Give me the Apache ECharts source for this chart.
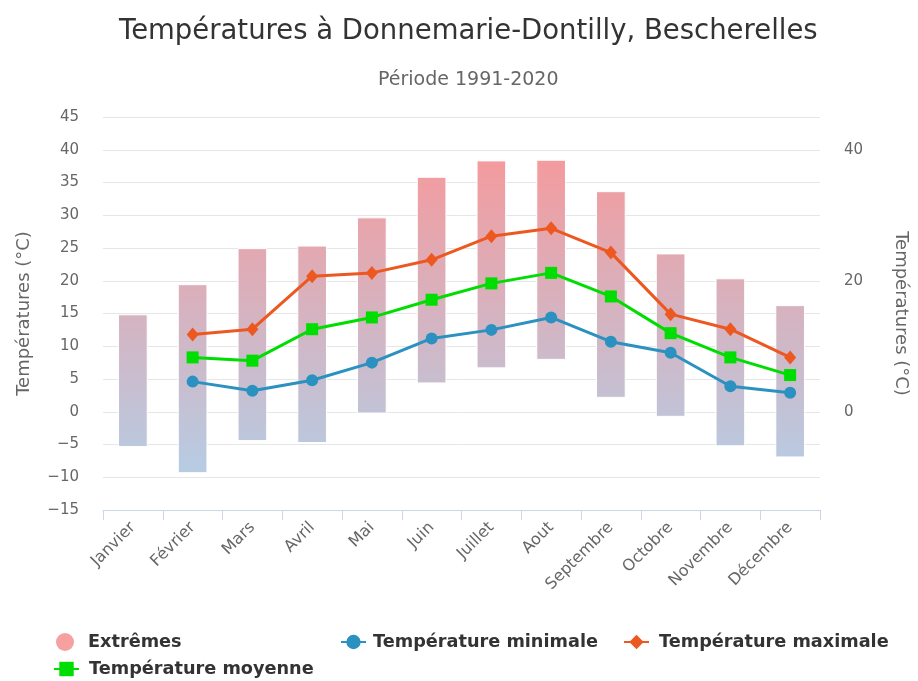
<!DOCTYPE html>
<html>
<head>
<meta charset="utf-8">
<script src="https://cdn.jsdelivr.net/npm/echarts@6/dist/echarts.min.js"></script>
<style>
  html, body { margin: 0; padding: 0; background: #fff; }
  #chart { width: 918px; height: 681px; }
</style>
</head>
<body>
<div id="chart"></div>
<script>
const months = ['Janvier', 'Février', 'Mars', 'Avril', 'Mai', 'Juin', 'Juillet',
  'Aout', 'Septembre', 'Octobre', 'Novembre', 'Décembre'];

// extrêmes (record bas / record haut)
const extremeLow = [-5.3, -9.3, -4.4, -4.7, -0.2, 4.4, 6.7, 8.0, 2.2, -0.7, -5.2, -6.9];
const extremeHigh = [14.8, 19.4, 24.9, 25.3, 29.6, 35.8, 38.3, 38.4, 33.6, 24.1, 20.3, 16.2];

// normales
const tempMin = [null, 4.6, 3.2, 4.8, 7.5, 11.2, 12.5, 14.4, 10.7, 9.0, 3.9, 2.9];
const tempMax = [null, 11.8, 12.6, 20.7, 21.2, 23.2, 26.8, 28.0, 24.3, 14.9, 12.6, 8.3];
const tempMoy = [null, 8.3, 7.8, 12.6, 14.4, 17.1, 19.6, 21.2, 17.6, 12.0, 8.3, 5.6];

const FONT = 'DejaVu Sans';
const minus = v => String(v).replace('-', '\u2212');

const chart = echarts.init(document.getElementById('chart'));

const gridTop = 117;
const gridBottom = 510;

const extremeFill = new echarts.graphic.LinearGradient(0, gridTop, 0, gridBottom, [
  { offset: 0, color: 'rgb(252,148,148)' },
  { offset: 1, color: 'rgb(175,210,236)' }
], true);

const legendText = {
  color: '#333',
  fontFamily: FONT,
  fontWeight: 'bold',
  fontSize: 17.7,
  padding: [0, 0, 0, 5]
};

chart.setOption({
  animation: false,
  title: [
    {
      text: 'Températures à Donnemarie-Dontilly, Bescherelles',
      left: 114,
      top: 13,
      textStyle: { color: '#333', fontFamily: FONT, fontWeight: 'normal', fontSize: 27.5 }
    },
    {
      text: 'Période 1991-2020',
      left: 373,
      top: 66,
      textStyle: { color: '#666', fontFamily: FONT, fontWeight: 'normal', fontSize: 19 }
    }
  ],
  legend: [
    {
      data: [{ name: 'Extrêmes', icon: 'circle' }],
      left: 56, top: 633, padding: 0, itemWidth: 18, itemHeight: 18,
      textStyle: Object.assign({}, legendText, { padding: [0, 0, 0, 9] })
    },
    {
      data: ['Température minimale'],
      left: 340, top: 633, padding: 0, itemWidth: 25, itemHeight: 18,
      textStyle: Object.assign({}, legendText, { padding: [0, 0, 0, 2] })
    },
    {
      data: ['Température maximale'],
      left: 623, top: 633, padding: 0, itemWidth: 25, itemHeight: 18,
      textStyle: legendText
    },
    {
      data: ['Température moyenne'],
      left: 53, top: 660, padding: 0, itemWidth: 25, itemHeight: 18,
      textStyle: legendText
    }
  ],
  grid: { left: 103, right: 93, top: gridTop, bottom: 681 - gridBottom, containLabel: false },
  xAxis: {
    type: 'category',
    data: months,
    boundaryGap: true,
    axisLine: { onZero: false, lineStyle: { color: '#ccd6eb', width: 1 } },
    axisTick: { show: true, length: 10, lineStyle: { color: '#ccd6eb' } },
    axisLabel: {
      rotate: 45,
      interval: 0,
      margin: 15,
      color: '#666',
      fontFamily: FONT,
      fontSize: 16
    },
    splitLine: { show: false }
  },
  yAxis: [
    {
      type: 'value',
      min: -15,
      max: 45,
      interval: 5,
      name: 'Températures (°C)',
      nameLocation: 'middle',
      nameGap: 70,
      nameTextStyle: { color: '#666', fontFamily: FONT, fontSize: 18 },
      axisLine: { show: false },
      axisTick: { show: false },
      axisLabel: { color: '#666', fontFamily: FONT, fontSize: 15, margin: 24, formatter: minus },
      splitLine: { lineStyle: { color: '#e6e6e6', width: 1 } }
    },
    {
      type: 'value',
      position: 'right',
      min: -15,
      max: 45,
      interval: 5,
      name: 'Températures (°C)',
      nameLocation: 'middle',
      nameRotate: -90,
      nameGap: 72,
      nameTextStyle: { color: '#666', fontFamily: FONT, fontSize: 18 },
      axisLine: { show: false },
      axisTick: { show: false },
      axisLabel: {
        color: '#666', fontFamily: FONT, fontSize: 15, margin: 24,
        formatter: v => (v % 20 === 0 ? minus(v) : '')
      },
      splitLine: { show: false }
    }
  ],
  series: [
    {
      name: 'Extrêmes',
      type: 'custom',
      itemStyle: { color: 'rgb(246,160,160)' },
      encode: { x: 0, y: [1, 2] },
      data: months.map((m, i) => [i, extremeLow[i], extremeHigh[i]]),
      renderItem: (params, api) => {
        const lo = api.coord([api.value(0), api.value(1)]);
        const hi = api.coord([api.value(0), api.value(2)]);
        const w = api.size([1, 0])[0] * 0.48;
        return {
          type: 'rect',
          shape: { x: lo[0] - w / 2, y: hi[1], width: w, height: lo[1] - hi[1] },
          style: { fill: extremeFill, stroke: '#fff', lineWidth: 1 }
        };
      },
      z: 1
    },
    {
      name: 'Température minimale',
      type: 'line',
      data: tempMin,
      color: '#2a91c0',
      symbol: 'circle',
      symbolSize: 12,
      lineStyle: { width: 3 },
      z: 3
    },
    {
      name: 'Température maximale',
      type: 'line',
      data: tempMax,
      color: '#ec5820',
      symbol: 'diamond',
      symbolSize: [12, 14],
      lineStyle: { width: 3 },
      z: 3
    },
    {
      name: 'Température moyenne',
      type: 'line',
      data: tempMoy,
      color: '#00dd00',
      symbol: 'rect',
      symbolSize: 12,
      lineStyle: { width: 3 },
      z: 3
    }
  ]
});
</script>
</body>
</html>
